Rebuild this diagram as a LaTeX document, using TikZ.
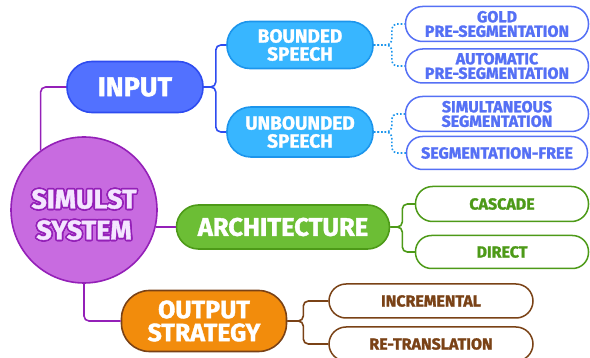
\documentclass[tikz,border=0pt]{standalone}
\usepackage{fontspec}
\setmainfont{Fira Sans}
\newfontfamily\heavyfam{Fira Sans}[BoldFeatures={FakeBold=1.4}]
\newcommand\heavyfont{\heavyfam\bfseries}
\usepackage{contour}
\usetikzlibrary{positioning}
\contourlength{1.6pt}

\definecolor{rootfill}{HTML}{C86BE0}
\definecolor{rootline}{HTML}{9420B8}
\definecolor{roottext}{HTML}{F4E6FF}
\definecolor{inputfill}{HTML}{5271FF}
\definecolor{inputline}{HTML}{2E4CF0}
\definecolor{speechfill}{HTML}{38B6FF}
\definecolor{speechline}{HTML}{1C95EC}
\definecolor{leafblue}{HTML}{5570F5}
\definecolor{archfill}{HTML}{6CBE35}
\definecolor{archline}{HTML}{4D9A18}
\definecolor{outfill}{HTML}{F28C0C}
\definecolor{outline}{HTML}{7A4216}

\newcommand\rootword[1]{\contour{rootline}{\textcolor{roottext}{#1}}}

\tikzset{
  topic/.style={draw, line width=1.6pt, text=white, align=center, inner sep=0pt, font=\heavyfont},
  leaf/.style={draw, fill=white, line width=1.5pt, align=center, inner sep=0pt, font=\heavyfont\fontsize{16}{14.5}\selectfont},
  link/.style={line width=1.6pt, rounded corners=5pt},
}

\begin{document}
\begin{tikzpicture}[x=1pt, y=-1pt]
\useasboundingbox (0,0) rectangle (590,358);
% Root
\node [circle, draw=rootline, fill=rootfill, line width=1.6pt, minimum size=146pt, inner sep=0pt, align=center, font=\heavyfont\fontsize{27}{32}\selectfont] (sys) at (84,210) {\rule{0pt}{30pt}\rootword{SIMULST}\\[-1pt]\rootword{SYSTEM}};
% Main topics
\node [topic, fill=inputfill, draw=inputline, minimum width=136pt, minimum height=51pt, rounded corners=25pt, font=\heavyfont\fontsize{27}{27}\selectfont] (input) at (135,87) {INPUT};
\node [topic, fill=archfill, draw=archline, minimum width=213pt, minimum height=44pt, rounded corners=22pt, font=\heavyfont\fontsize{25.5}{25}\selectfont] (arch) at (283,227) {ARCHITECTURE};
\node [topic, fill=outfill, draw=outline, minimum width=165pt, minimum height=61pt, rounded corners=28pt, font=\heavyfont\fontsize{25}{23}\selectfont] (output) at (204,321) {OUTPUT\\STRATEGY};
% Speech types
\node [topic, fill=speechfill, draw=speechline, minimum width=146pt, minimum height=47pt, rounded corners=23pt, font=\heavyfont\fontsize{19}{18}\selectfont] (bounded) at (300,45) {BOUNDED\\SPEECH};
\node [topic, fill=speechfill, draw=speechline, minimum width=146pt, minimum height=50pt, rounded corners=24pt, font=\heavyfont\fontsize{19}{18}\selectfont] (unbounded) at (300,132) {UNBOUNDED\\SPEECH};
% Leaves
\node [leaf, draw=leafblue, text=leafblue, minimum width=183pt, minimum height=35pt, rounded corners=17pt] (gold) at (497,24) {GOLD\\PRE-SEGMENTATION};
\node [leaf, draw=leafblue, text=leafblue, minimum width=183pt, minimum height=34pt, rounded corners=17pt] (auto) at (497,66) {AUTOMATIC\\PRE-SEGMENTATION};
\node [leaf, draw=leafblue, text=leafblue, minimum width=183pt, minimum height=35pt, rounded corners=17pt] (simul) at (497,114) {SIMULTANEOUS\\SEGMENTATION};
\node [leaf, draw=leafblue, text=leafblue, minimum width=181pt, minimum height=33pt, rounded corners=16pt] (free) at (497,153) {SEGMENTATION-FREE};
\node [leaf, draw=archline, text=archline, minimum width=173pt, minimum height=35pt, rounded corners=17pt] (cascade) at (502,204) {CASCADE};
\node [leaf, draw=archline, text=archline, minimum width=173pt, minimum height=33pt, rounded corners=16pt] (direct) at (502,252) {DIRECT};
\node [leaf, draw=outline, text=outline, minimum width=204pt, minimum height=34pt, rounded corners=17pt] (incr) at (431,301) {INCREMENTAL};
\node [leaf, draw=outline, text=outline, minimum width=204pt, minimum height=34pt, rounded corners=17pt] (retrans) at (431,344) {RE-TRANSLATION};
% Links from the root
\draw [link, rootline] (sys.126) |- (input.west);
\draw [link, rootline] (arch.west) -- (arch.west -| sys.-13);
\draw [link, rootline] (sys.south) |- (output.west);
% Links to speech types
\draw [link, inputline] (input.east) -- ++(12,0) |- (bounded.west);
\draw [link, inputline] (input.east) -- ++(12,0) |- (unbounded.west);
% Links to leaves
\draw [link, speechline, dotted] (bounded.east) -- ++(18,0) |- (gold.west);
\draw [link, speechline, dotted] (bounded.east) -- ++(18,0) |- (auto.west);
\draw [link, speechline, dotted] (unbounded.east) -- ++(18,0) |- (simul.west);
\draw [link, speechline, dotted] (unbounded.east) -- ++(18,0) |- (free.west);
\draw [link, archline] (arch.east) -- ++(12,0) |- (cascade.west);
\draw [link, archline] (arch.east) -- ++(12,0) |- (direct.west);
\draw [link, outline] (output.east) -- ++(16,0) |- (incr.west);
\draw [link, outline] (output.east) -- ++(16,0) |- (retrans.west);
\end{tikzpicture}
\end{document}
